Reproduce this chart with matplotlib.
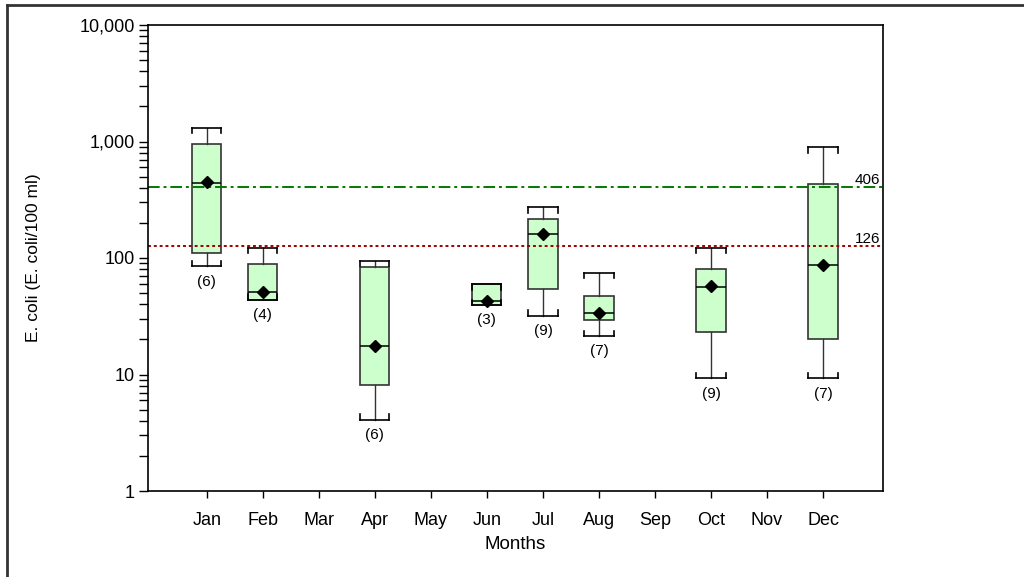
import numpy as np
import matplotlib
matplotlib.use("Agg")
import matplotlib.pyplot as plt
from matplotlib.ticker import FuncFormatter, LogLocator
from matplotlib.lines import Line2D

plt.rcParams['font.family'] = ['Liberation Sans', 'DejaVu Sans']

months = ["Jan", "Feb", "Mar", "Apr", "May", "Jun", "Jul", "Aug", "Sep", "Oct", "Nov", "Dec"]

box_pos = [1, 2, 4, 6, 7, 8, 10, 12]
whis_lo = [85, 44, 4.1, 39.5, 32, 21.5, 9.3, 9.3]
q1 = [110, 44, 8.1, 39.5, 54, 29.5, 23.2, 20.2]
median = [436, 51, 17.7, 42.7, 161, 33.5, 56.7, 86.5]
mean = [446, 51.5, 17.7, 43, 161, 33.5, 57, 86.5]
q3 = [952, 89, 83, 59.5, 217, 47, 80, 432]
whis_hi = [1306, 122, 95, 59.5, 272, 74, 123, 892]
counts = [6, 4, 6, 3, 9, 7, 9, 7]

ref_values = [406, 126]

fig = plt.figure(figsize=(10.24, 5.77), dpi=100)
ax = fig.add_axes([148/1024, 1-491/577, 735/1024, 466/577])

stats = []
for i in range(len(box_pos)):
    stats.append(dict(med=median[i], q1=q1[i], q3=q3[i], whislo=whis_lo[i],
                      whishi=whis_hi[i], mean=mean[i], fliers=[]))

w = 0.52
ax.bxp(stats, positions=box_pos, widths=w, capwidths=w, showmeans=True,
       patch_artist=True, showfliers=False,
       boxprops=dict(facecolor="#ccffcc", edgecolor="#333333", linewidth=1.2),
       medianprops=dict(color="black", linewidth=1.1),
       whiskerprops=dict(color="#333333", linewidth=1.0),
       capprops=dict(color="black", linewidth=1.2),
       meanprops=dict(marker="D", markerfacecolor="black", markeredgecolor="black",
                      markersize=6.5))

# bracket ends on the caps
f = 10**0.045
for i, p in enumerate(box_pos):
    for xx in (p - w/2, p + w/2):
        ax.plot([xx, xx], [whis_hi[i], whis_hi[i]/f], color="black", lw=1.2)
        ax.plot([xx, xx], [whis_lo[i], whis_lo[i]*f], color="black", lw=1.2)
    ax.annotate("(%d)" % counts[i], (p, whis_lo[i]), xytext=(0, -6),
                textcoords="offset points", ha="center", va="top", fontsize=11)

ax.axhline(ref_values[0], color="#007a00", lw=1.4, dashes=(6, 2, 1.5, 2))
ax.axhline(ref_values[1], color="#a00000", lw=1.4, dashes=(1.5, 1.5))
for v in ref_values:
    ax.text(13.02, v, str(v), ha="right", va="bottom", fontsize=11)

ax.set_yscale("log")
ax.set_ylim(1, 10000)
ax.set_xlim(-0.05, 13.07)
ax.yaxis.set_major_locator(LogLocator(base=10))
ax.yaxis.set_minor_locator(LogLocator(base=10, subs=np.arange(2, 10)))
ax.yaxis.set_major_formatter(FuncFormatter(lambda v, p: "{:,.0f}".format(v)))
ax.yaxis.set_minor_formatter(FuncFormatter(lambda v, p: ""))
ax.set_xticks(range(1, 13))
ax.set_xticklabels(months)
ax.tick_params(axis="y", which="both", direction="out", length=6.5, width=1, labelsize=13, pad=3)
ax.tick_params(axis="x", direction="out", length=5, width=1, labelsize=13, pad=10)
ax.tick_params(top=False, right=False)
for s in ax.spines.values():
    s.set_linewidth(1.2)

ax.set_ylabel("E. coli (E. coli/100 ml)", fontsize=12.5)
ax.yaxis.set_label_coords(-0.1456, 0.5)
ax.set_xlabel("Months", fontsize=13.5)
ax.xaxis.set_label_coords(0.5, -0.0965)

# outer frame (left and top edges)
fig.add_artist(Line2D([7/1024, 7/1024], [0, 1-5/577], transform=fig.transFigure,
                      color="#333333", lw=2))
fig.add_artist(Line2D([7/1024, 1], [1-5/577, 1-5/577], transform=fig.transFigure,
                      color="#333333", lw=2))

plt.savefig("out.png", dpi=100)
